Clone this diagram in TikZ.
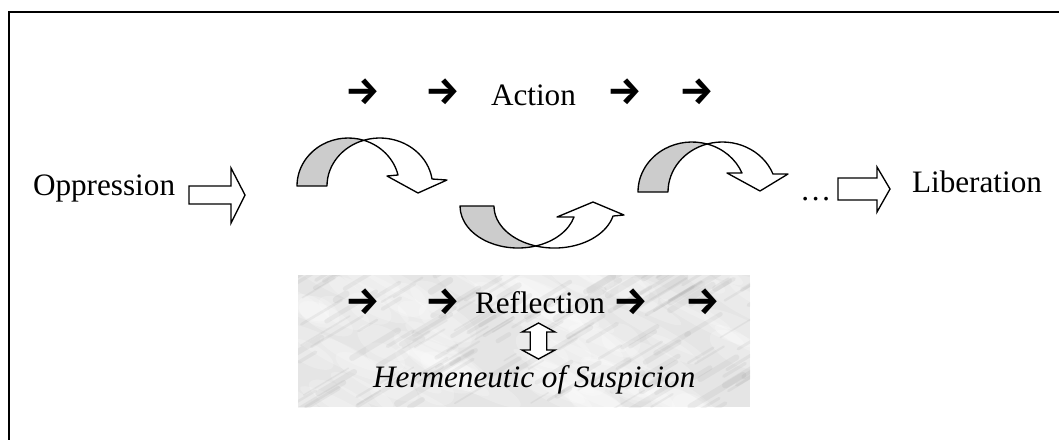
\documentclass[tikz,border=0pt]{standalone}
\usepackage{fontspec}
\setmainfont{Liberation Serif}
\newfontfamily\arrowfont{Fira Sans}
\begin{document}
\begin{tikzpicture}[x=0.75pt,y=-0.75pt,
  lbl/.style={inner sep=0pt, outer sep=0pt, font=\fontsize{23.4}{28}\selectfont},
  arr/.style={inner sep=0pt, outer sep=0pt, font=\arrowfont\bfseries\fontsize{29}{33}\selectfont, anchor=base},
  ribbon/.style={draw=black, line width=1pt, line join=round},
  grayface/.style={ribbon, fill=black!20},
  whiteface/.style={ribbon, fill=white},
  blockarrow/.style={draw=black, line width=1pt, fill=white, line join=miter},
  streak/.style={line cap=round}
]
\useasboundingbox (0,0) rectangle (1059,440);
\fill[white] (0,0) rectangle (1059,440);
% frame
\draw[line width=1.5pt] (1059,12) -- (9,12) -- (9,440);

% marble panel
\begin{scope}
  \clip (298,275) rectangle (750,407);
  \fill[black!10] (298,275) rectangle (750,407);
  \pgfmathsetseed{11}
  \foreach \i in {1,...,90}{
    \pgfmathsetmacro\xa{290+rnd*470}
    \pgfmathsetmacro\ya{270+rnd*145}
    \pgfmathsetmacro\rx{20+rnd*40}
    \pgfmathsetmacro\ry{6+rnd*12}
    \fill[white, opacity=0.22, rotate around={-28:(\xa,\ya)}] (\xa,\ya) ellipse[x radius=\rx, y radius=\ry];
  }
  \foreach \i in {1,...,160}{
    \pgfmathsetmacro\xa{290+rnd*470}
    \pgfmathsetmacro\ya{270+rnd*145}
    \pgfmathsetmacro\len{10+rnd*45}
    \pgfmathsetmacro\w{1+rnd*4}
    \draw[streak, black!60, opacity=0.08, line width=\w pt] (\xa,\ya) -- ++(\len,-0.6*\len);
  }
\end{scope}

% texts
\node[lbl, anchor=base west] (opp) at (33,195) {Oppression};
\node[lbl, anchor=base west] (act) at (491,105) {Action};
\node[lbl, anchor=base west] (dots) at (800,200) {\char"2026};
\node[lbl, anchor=base west] (lib) at (912,192) {Liberation};
\node[lbl, anchor=base west] (refl) at (475,313) {Reflection};
\node[lbl, anchor=base west] (herm) at (373,387) {\itshape Hermeneutic of Suspicion};

% small arrows
\node[arr] (ta1) at (363,104) {→};
\node[arr] (ta2) at (443,104) {→};
\node[arr] (ta3) at (625,104) {→};
\node[arr] (ta4) at (697,104) {→};
\node[arr] (ra1) at (363,314) {→};
\node[arr] (ra2) at (443,314) {→};
\node[arr] (ra3) at (631,314) {→};
\node[arr] (ra4) at (703,314) {→};

% block arrows
\draw[blockarrow] (189,186) -- (231,186) -- (231,168) -- (245,195) -- (231,223) -- (231,204) -- (189,204) -- cycle;
\draw[blockarrow] (838,178) -- (877,178) -- (877,167) -- (890,189) -- (877,212) -- (877,200) -- (838,200) -- cycle;

% up-down arrow
\draw[blockarrow] (538.5,323) -- (555,332) -- (546.8,332) -- (546.8,350) -- (555,350) -- (538.5,359)
  -- (522,350) -- (530.2,350) -- (530.2,332) -- (522,332) -- cycle;

% curved arrow 1
\draw[grayface] (297,186) arc[start angle=180, end angle=287.74, x radius=51.2, y radius=48]
  arc[start angle=252.36, end angle=180, x radius=52.8, y radius=48] -- cycle;
\draw[whiteface] (363.8,140.28) arc[start angle=252.36, end angle=351.6, x radius=52.8, y radius=48]
  -- (447,180) -- (418,193) -- (387,176) -- (398,175)
  arc[start angle=346.76, end angle=287.74, x radius=51.2, y radius=48] -- cycle;

% curved arrow 2 (up)
\draw[grayface] (460,206) arc[start angle=180, end angle=72.1, x radius=58, y radius=42]
  arc[start angle=107.9, end angle=180, x radius=60.4, y radius=42] -- cycle;
\draw[whiteface] (535.8,246) arc[start angle=107.9, end angle=13.77, x radius=60.4, y radius=42]
  -- (624,215) -- (593,202) -- (557,217) -- (574,217)
  arc[start angle=15.2, end angle=72.1, x radius=58, y radius=42] -- cycle;

% curved arrow 3
\draw[grayface] (638,192) arc[start angle=180, end angle=286.24, x radius=54, y radius=50]
  arc[start angle=253.74, end angle=180, x radius=54.3, y radius=50] -- cycle;
\draw[whiteface] (707.1,144.0) arc[start angle=253.74, end angle=338.9, x radius=54.3, y radius=50]
  -- (788,174) -- (760,191) -- (727,173) -- (742,173)
  arc[start angle=337.67, end angle=286.24, x radius=54, y radius=50] -- cycle;
\end{tikzpicture}
\end{document}
